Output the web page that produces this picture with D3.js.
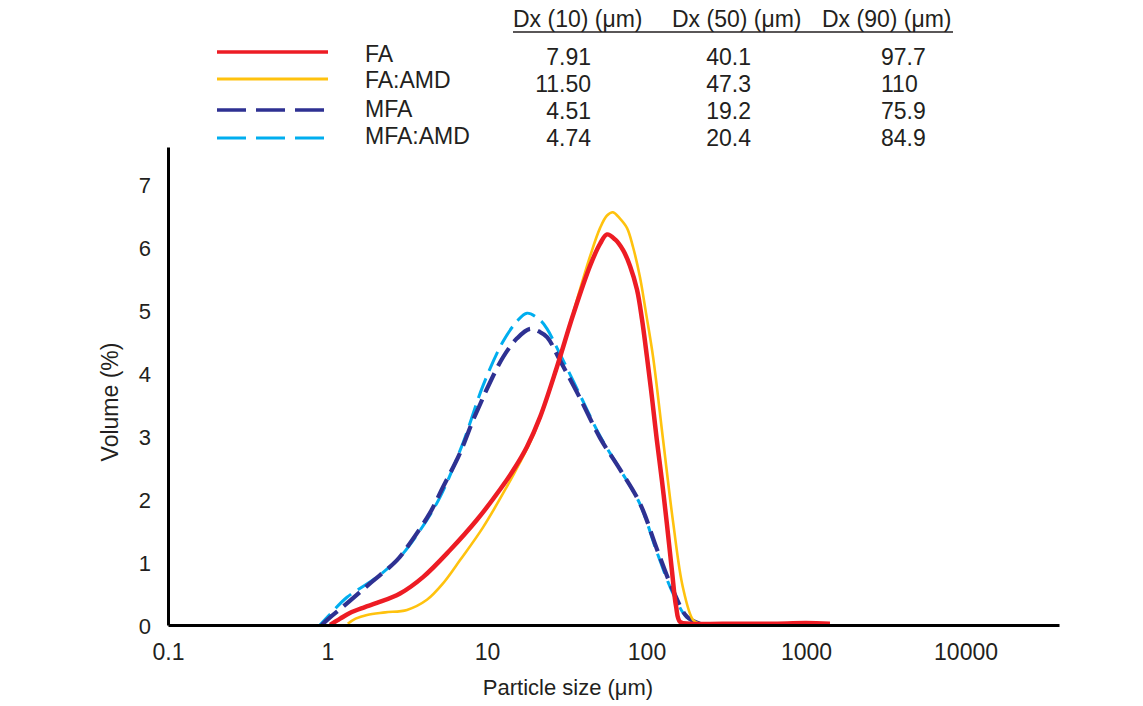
<!DOCTYPE html>
<html>
<head>
<meta charset="utf-8">
<script src="https://cdn.jsdelivr.net/npm/d3@7"></script>
<style>
  html, body { margin: 0; padding: 0; background: #fff; }
  svg { display: block; font-family: "Liberation Sans", Arial, sans-serif; }
</style>
</head>
<body>
<svg id="chart" width="1143" height="706"></svg>
<script>
// ---------- data ----------
const seriesNames = ["FA", "FA:AMD", "MFA", "MFA:AMD"];
const seriesColors = ["#ED1C24", "#FFC20E", "#2E3192", "#00AEEF"];

// [particle size (um), volume (%)]
const faData = [
  [1.04,0],[1.2,0.1],[1.38,0.19],[1.7,0.28],[2.04,0.35],[2.85,0.5],[3.97,0.76],[5.87,1.19],
  [8.65,1.67],[12.07,2.15],[14.98,2.5],[17.81,2.83],[21.5,3.3],[27.47,4.1],[34.62,4.92],
  [44.24,5.7],[51.1,6.05],[56.55,6.2],[63.5,6.12],[71.3,5.95],[78.8,5.7],[87.2,5.32],
  [93.7,4.85],[100.7,4.25],[108.3,3.6],[116,2.94],[125.1,2.28],[134,1.62],[144.5,0.85],
  [153.1,0.3],[162.2,0.05],[187.4,0.02],[300,0.02],[600,0.02],[1000,0.03],[1413,0.02]
];
const faAmdData = [
  [1.34,0.02],[1.5,0.1],[1.77,0.16],[2.3,0.2],[3.15,0.24],[4.2,0.4],[5.3,0.66],[6.78,1.03],
  [9.44,1.55],[13.35,2.2],[16.1,2.58],[19.43,3.0],[23.1,3.5],[27.47,4.08],[34.62,4.95],
  [44.24,5.85],[51.1,6.3],[56.55,6.5],[61.66,6.55],[68.2,6.45],[75.5,6.3],[82.3,6.0],
  [91,5.52],[99.3,4.95],[110,4.25],[127,2.94],[147,1.62],[169,0.6],[196,0.08],[216,0.02],[260,0.0]
];
const mfaData = [
  [0.92,0],[1.037,0.12],[1.251,0.29],[1.847,0.66],[2.728,1.03],[3.29,1.3],[4.39,1.78],
  [5.3,2.19],[6.77,2.73],[8.17,3.25],[9.04,3.5],[10,3.75],[12.6,4.25],[15.42,4.55],
  [18.6,4.7],[21.5,4.65],[23.8,4.57],[28.7,4.2],[38.3,3.6],[51.1,2.97],[68.2,2.47],
  [91,1.93],[116.4,1.2],[146.6,0.55],[179.4,0.13],[216.4,0.02],[250,0.0]
];
const mfaAmdData = [
  [0.897,0],[1.037,0.17],[1.325,0.44],[2.043,0.76],[2.848,1.08],[3.8,1.5],[5.075,2.03],
  [7.07,2.89],[9.44,3.8],[12.6,4.5],[15.42,4.82],[17.81,4.95],[21.5,4.84],[23.8,4.7],
  [28.7,4.3],[38.3,3.65],[51.1,3.0],[68.2,2.47],[91,1.92],[116.4,1.15],[146.6,0.5],
  [179.4,0.12],[216.4,0.03],[289,0.02],[359,0]
];
const allSeries = [faData, faAmdData, mfaData, mfaAmdData];

const xTickValues = [0.1, 1, 10, 100, 1000, 10000];
const xTickLabels = ["0.1", "1", "10", "100", "1000", "10000"];
const yTickValues = [0, 1, 2, 3, 4, 5, 6, 7];

const tableHeaders = ["Dx (10) (\u03bcm)", "Dx (50) (\u03bcm)", "Dx (90) (\u03bcm)"];
const dx10 = ["7.91", "11.50", "4.51", "4.74"];
const dx50 = ["40.1", "47.3", "19.2", "20.4"];
const dx90 = ["97.7", "110", "75.9", "84.9"];

(function () {
// ---------- layout ----------
const svg = d3.select("#chart");
const pLeft = 168, pRight = 1059, pBottom = 625, pTop = 147;
const textColor = "#231F20";

const x = d3.scaleLog().domain([0.1, Math.pow(10, 4.586)]).range([pLeft, pRight]);
const y = d3.scaleLinear().domain([0, (pBottom - pTop) / 63]).range([pBottom, pTop]);

// curves
const line = d3.line().x(d => x(d[0])).y(d => y(d[1])).curve(d3.curveCatmullRom.alpha(0.5));
const styles = [
  { w: 4.5, dash: null },
  { w: 2.6, dash: null },
  { w: 4.2, dash: "21 8" },
  { w: 3.0, dash: "21 8" }
];
const drawOrder = [3, 2, 1, 0];
drawOrder.forEach(i => {
  svg.append("path")
    .datum(allSeries[i])
    .attr("d", line)
    .attr("fill", "none")
    .attr("stroke", seriesColors[i])
    .attr("stroke-width", styles[i].w)
    .attr("stroke-linejoin", "round")
    .attr("stroke-dasharray", styles[i].dash)
    .attr("stroke-dashoffset", i === 3 ? 6 : 0);
});

// axes
const xAxis = svg.append("g").attr("transform", `translate(0,${pBottom})`)
  .call(d3.axisBottom(x).tickValues(xTickValues).tickSize(0).tickSizeOuter(0).tickPadding(18.5)
    .tickFormat((d, i) => xTickLabels[i]));
xAxis.selectAll("text").attr("font-size", 23).attr("fill", textColor)
  .attr("font-family", "Liberation Sans, Arial, sans-serif");

const yAxis = svg.append("g").attr("transform", `translate(${pLeft},0)`)
  .call(d3.axisLeft(y).tickValues(yTickValues).tickSize(0).tickSizeOuter(0).tickPadding(17)
    .tickFormat(d3.format("d")));
yAxis.selectAll("text").attr("font-size", 22).attr("fill", textColor).attr("dy", "0.4em")
  .attr("font-family", "Liberation Sans, Arial, sans-serif");

xAxis.select(".domain").attr("stroke", "#000").attr("stroke-width", 3);
yAxis.select(".domain").attr("stroke", "#000").attr("stroke-width", 3);

// axis titles
svg.append("text").attr("x", 568).attr("y", 695).attr("text-anchor", "middle")
  .attr("font-size", 22).attr("fill", textColor).text("Particle size (\u03bcm)");
svg.append("text").attr("transform", "translate(118,402) rotate(-90)").attr("text-anchor", "middle")
  .attr("font-size", 23).attr("fill", textColor).text("Volume (%)");

// legend
const legendLineY = [52, 79, 110, 138];
const legendTextY = [62, 88, 117, 144];
const legendDash = [null, null, "29 10", "29 10"];
const legendW = [3.5, 3.2, 3.5, 3.2];
const legend = svg.append("g");
seriesNames.forEach((name, i) => {
  legend.append("line").attr("x1", 217).attr("x2", 328)
    .attr("y1", legendLineY[i]).attr("y2", legendLineY[i])
    .attr("stroke", seriesColors[i]).attr("stroke-width", legendW[i])
    .attr("stroke-dasharray", legendDash[i]);
  legend.append("text").attr("x", 365).attr("y", legendTextY[i])
    .attr("font-size", 23).attr("fill", textColor).text(name);
});

// table
const headerX = [513, 672, 822];
tableHeaders.forEach((h, j) => {
  legend.append("text").attr("x", headerX[j]).attr("y", 27)
    .attr("font-size", 23).attr("fill", textColor).text(h);
});
legend.append("line").attr("x1", 513).attr("x2", 953).attr("y1", 32).attr("y2", 32)
  .attr("stroke", textColor).attr("stroke-width", 1.3);
const valueY = [65, 92, 119, 146];
const cols = [
  { vals: dx10, x: 591, anchor: "end" },
  { vals: dx50, x: 751, anchor: "end" },
  { vals: dx90, x: 881, anchor: "start" }
];
cols.forEach(c => {
  c.vals.forEach((v, i) => {
    legend.append("text").attr("x", c.x).attr("y", valueY[i]).attr("text-anchor", c.anchor)
      .attr("font-size", 23).attr("fill", textColor).text(v);
  });
});
})();
</script>
</body>
</html>
